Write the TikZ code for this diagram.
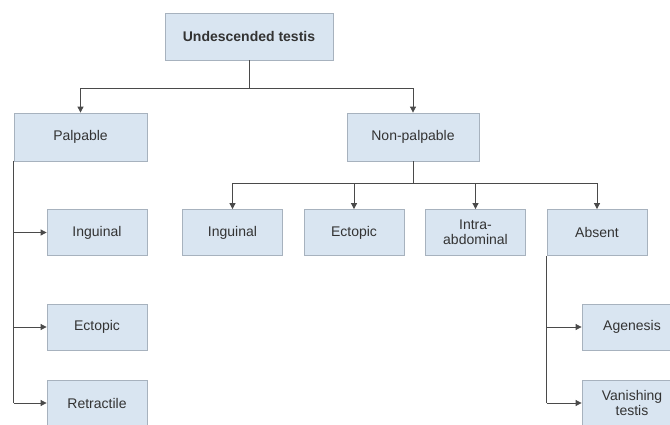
\documentclass[tikz,border=0pt]{standalone}
\usepackage{fontspec}
\setmainfont{Liberation Sans}
\usetikzlibrary{positioning,arrows.meta,calc}
\definecolor{boxFill}{HTML}{D9E5F1}
\definecolor{boxEdge}{HTML}{A7B2BE}
\definecolor{linkGray}{HTML}{4A4A4A}
\definecolor{textDark}{HTML}{333333}

\begin{document}
\begin{tikzpicture}[x=1pt, y=-1pt, font=\fontsize{14}{15}\selectfont,
    >={Triangle[length=6pt,width=6pt]},
    box/.style={draw=boxEdge, fill=boxFill, line width=0.8pt, text=textDark,
      minimum width=100pt, minimum height=46pt, align=center, inner sep=2pt},
    link/.style={draw=linkGray, line width=0.8pt}]
  \clip (0,0) rectangle (670,424);
  % root and the two main groups
  \node[box, font=\fontsize{14}{15}\selectfont\bfseries, minimum width=168pt, minimum height=47pt] (root) at (249,36.5) {Undescended testis};
  \node[box, minimum width=133pt, minimum height=48pt] (palp) at (80.5,137) {Palpable};
  \node[box, minimum width=132pt, minimum height=48pt] (nonp) at (413,137) {Non-palpable};
  \coordinate (rootJoin) at (249,88);
  \draw[link] (root) -- (rootJoin);
  \draw[link,->] (rootJoin) -| (palp);
  \draw[link,->] (rootJoin) -| (nonp);

  % palpable: a rail down the left edge
  \foreach \n/\y/\t in {ingA/232.5/Inguinal, ectA/327/Ectopic, retA/403/Retractile} {
    \node[box] (\n) at (97,\y) {\t};
  }
  \draw[link] (palp.south west) -- (palp.south west |- retA.west);
  \foreach \n in {ingA, ectA, retA} {
    \draw[link,->] (palp.south west |- \n.west) -- (\n.west);
  }

  % non-palpable: four kinds side by side
  \foreach \n/\x/\t in {ingB/232.5/Inguinal, ectB/354/Ectopic, intB/475.5/{Intra-\\abdominal}, absB/597/Absent} {
    \node[box] (\n) at (\x,232.5) {\t};
  }
  \coordinate (nonpJoin) at (413,183);
  \draw[link] (nonp) -- (nonpJoin);
  \foreach \n in {ingB, ectB, intB, absB} {
    \draw[link,->] (nonpJoin) -| (\n);
  }

  % absent splits again
  \node[box] (agen) at (632,327) {Agenesis};
  \node[box] (vani) at (632,403) {Vanishing\\testis};
  \draw[link] (absB.south west) -- (absB.south west |- vani.west);
  \foreach \n in {agen, vani} {
    \draw[link,->] (absB.south west |- \n.west) -- (\n.west);
  }
\end{tikzpicture}
\end{document}
